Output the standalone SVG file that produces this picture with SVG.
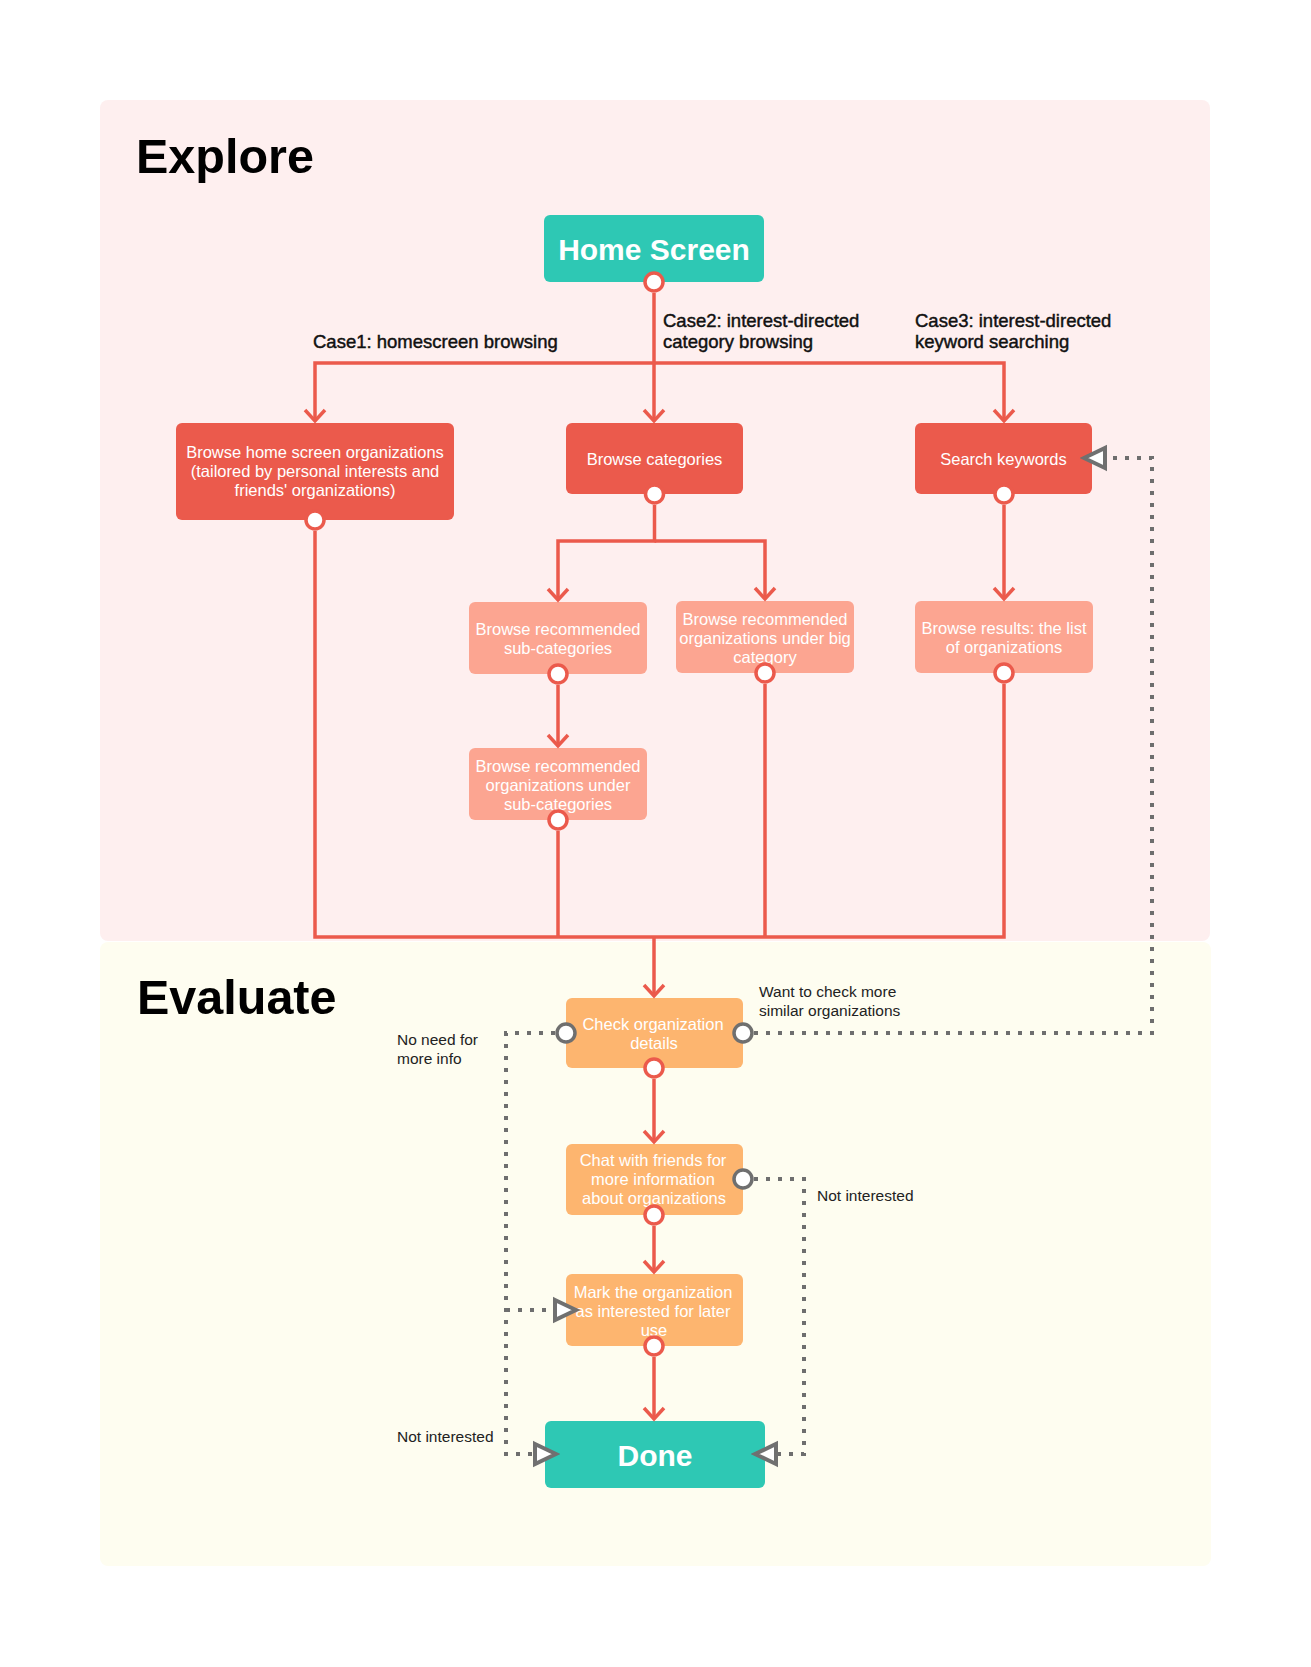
<svg xmlns="http://www.w3.org/2000/svg" width="1311" height="1667" viewBox="0 0 1311 1667">
<defs>
<style>
.title{font-family:"Liberation Sans",Arial,sans-serif;font-weight:bold;font-size:48.5px;fill:#000}
.big{font-family:"Liberation Sans",Arial,sans-serif;font-weight:bold;font-size:30px;fill:#fff;text-anchor:middle}
.nt{font-family:"Liberation Sans",Arial,sans-serif;font-size:16.5px;fill:#fff;text-anchor:middle}
.case{font-family:"Liberation Sans",Arial,sans-serif;font-size:18.5px;fill:#111;stroke:#111;stroke-width:0.45}
.lbl{font-family:"Liberation Sans",Arial,sans-serif;font-size:15.5px;fill:#222}
.teal{fill:#2EC8B4}
.red{fill:#EB5A4C}
.salmon{fill:#FCA591}
.orange{fill:#FDB56F}
.port{fill:#fff;stroke:#EB5A4C;stroke-width:3.5}
.gport{fill:#fff;stroke:#6F6F6F;stroke-width:3.5}
.flow{fill:none;stroke:#EB5A4C;stroke-width:3.5;stroke-linejoin:miter}
.dot{fill:none;stroke:#6E6E6E;stroke-width:4;stroke-dasharray:4 8}
</style>
<marker id="chev" markerUnits="userSpaceOnUse" viewBox="-14 -14 28 28" refX="0" refY="0" markerWidth="28" markerHeight="28" orient="auto">
<path d="M-11,-10 L0,0 L-11,10" fill="none" stroke="#EB5A4C" stroke-width="3.5"/>
</marker>
<marker id="tri" markerUnits="userSpaceOnUse" viewBox="-26 -14 30 28" refX="0" refY="0" markerWidth="30" markerHeight="28" orient="auto">
<path d="M-21,-10 L0,0 L-21,10 Z" fill="#fff" stroke="#707070" stroke-width="4" stroke-linejoin="miter"/>
</marker>
</defs>

<rect x="0" y="0" width="1311" height="1667" fill="#fff"/>
<g id="panels">
<rect x="100" y="100" width="1110" height="841" rx="8" fill="#FEEFEF"/>
<rect x="100" y="942" width="1111" height="624" rx="8" fill="#FEFDF0"/>
<text class="title" x="136" y="173">Explore</text>
<text class="title" x="137" y="1014">Evaluate</text>
</g>

<g id="home">
<rect class="teal" x="544" y="215" width="220" height="67" rx="6"/>
<text class="big" x="654" y="260">Home Screen</text>
<circle class="port" cx="654" cy="282" r="9"/>
</g>

<g id="browse-home">
<rect class="red" x="176" y="423" width="278" height="97" rx="6"/>
<text class="nt" x="315" y="458">Browse home screen organizations</text>
<text class="nt" x="315" y="477">(tailored by personal interests and</text>
<text class="nt" x="315" y="496">friends' organizations)</text>
<circle class="port" cx="315" cy="520" r="9"/>
</g>

<g id="browse-categories">
<rect class="red" x="566" y="423" width="177" height="71" rx="6"/>
<text class="nt" x="654.5" y="465">Browse categories</text>
<circle class="port" cx="654.5" cy="494" r="9"/>
</g>

<g id="search-keywords">
<rect class="red" x="915" y="423" width="177" height="71" rx="6"/>
<text class="nt" x="1003.5" y="465">Search keywords</text>
<circle class="port" cx="1004" cy="494" r="9"/>
</g>

<g id="sub-categories">
<rect class="salmon" x="469" y="602" width="178" height="72" rx="6"/>
<text class="nt" x="558" y="635">Browse recommended</text>
<text class="nt" x="558" y="654">sub-categories</text>
<circle class="port" cx="558" cy="674" r="9"/>
</g>

<g id="orgs-sub-categories">
<rect class="salmon" x="469" y="748" width="178" height="72" rx="6"/>
<text class="nt" x="558" y="772">Browse recommended</text>
<text class="nt" x="558" y="791">organizations under</text>
<text class="nt" x="558" y="810">sub-categories</text>
<circle class="port" cx="558" cy="820" r="9"/>
</g>

<g id="orgs-big-category">
<rect class="salmon" x="676" y="601" width="178" height="72" rx="6"/>
<text class="nt" x="765" y="625">Browse recommended</text>
<text class="nt" x="765" y="644">organizations under big</text>
<text class="nt" x="765" y="663">category</text>
<circle class="port" cx="765" cy="673" r="9"/>
</g>

<g id="browse-results">
<rect class="salmon" x="915" y="601" width="178" height="72" rx="6"/>
<text class="nt" x="1004" y="634">Browse results: the list</text>
<text class="nt" x="1004" y="653">of organizations</text>
<circle class="port" cx="1004" cy="673" r="9"/>
</g>

<g id="check-details">
<rect class="orange" x="566" y="998" width="177" height="70" rx="6"/>
<text class="nt" x="653" y="1030">Check organization</text>
<text class="nt" x="654" y="1049">details</text>
<circle class="gport" cx="566" cy="1033" r="9"/>
<circle class="gport" cx="743" cy="1033" r="9"/>
<circle class="port" cx="654" cy="1068" r="9"/>
</g>

<g id="chat">
<rect class="orange" x="566" y="1144" width="177" height="71" rx="6"/>
<text class="nt" x="653" y="1166">Chat with friends for</text>
<text class="nt" x="653" y="1185">more information</text>
<text class="nt" x="654" y="1204">about organizations</text>
<circle class="gport" cx="743" cy="1179" r="9"/>
<circle class="port" cx="654" cy="1215" r="9"/>
</g>

<g id="mark">
<rect class="orange" x="566" y="1274" width="177" height="72" rx="6"/>
<text class="nt" x="653" y="1298">Mark the organization</text>
<text class="nt" x="653" y="1317">as interested for later</text>
<text class="nt" x="654" y="1336">use</text>
<circle class="port" cx="654" cy="1346" r="9"/>
</g>

<g id="done">
<rect class="teal" x="545" y="1421" width="220" height="67" rx="6"/>
<text class="big" x="655" y="1466">Done</text>
</g>

<g id="connectors">
<path class="flow" d="M654,293 V421" marker-end="url(#chev)"/>
<path class="flow" d="M654,363 H315 V421" marker-end="url(#chev)"/>
<path class="flow" d="M654,363 H1004 V421" marker-end="url(#chev)"/>
<path class="flow" d="M654.5,505 V541 H558 V600" marker-end="url(#chev)"/>
<path class="flow" d="M654.5,541 H765 V599" marker-end="url(#chev)"/>
<path class="flow" d="M558,685 V746" marker-end="url(#chev)"/>
<path class="flow" d="M1004,505 V599" marker-end="url(#chev)"/>
<path class="flow" d="M315,531 V937 H1004 V684"/>
<path class="flow" d="M558,831 V937"/>
<path class="flow" d="M765,684 V937"/>
<path class="flow" d="M654,937 V996" marker-end="url(#chev)"/>
<path class="flow" d="M654,1079 V1142" marker-end="url(#chev)"/>
<path class="flow" d="M654,1226 V1272" marker-end="url(#chev)"/>
<path class="flow" d="M654,1357 V1419" marker-end="url(#chev)"/>
<path class="dot" d="M754,1033 H1152 V458 H1084" marker-end="url(#tri)"/>
<path class="dot" d="M555,1033 H506 V1454 H556" marker-end="url(#tri)"/>
<path class="dot" d="M506,1310 H576" marker-end="url(#tri)"/>
<path class="dot" d="M754,1179 H804 V1454 H755" marker-end="url(#tri)"/>
</g>

<g id="labels">
<text class="case" x="313" y="348">Case1: homescreen browsing</text>
<text class="case" x="663" y="327">Case2: interest-directed</text>
<text class="case" x="663" y="348">category browsing</text>
<text class="case" x="915" y="327">Case3: interest-directed</text>
<text class="case" x="915" y="348">keyword searching</text>
<text class="lbl" x="759" y="997">Want to check more</text>
<text class="lbl" x="759" y="1016">similar organizations</text>
<text class="lbl" x="397" y="1045">No need for</text>
<text class="lbl" x="397" y="1064">more info</text>
<text class="lbl" x="817" y="1201">Not interested</text>
<text class="lbl" x="397" y="1442">Not interested</text>
</g>
</svg>
